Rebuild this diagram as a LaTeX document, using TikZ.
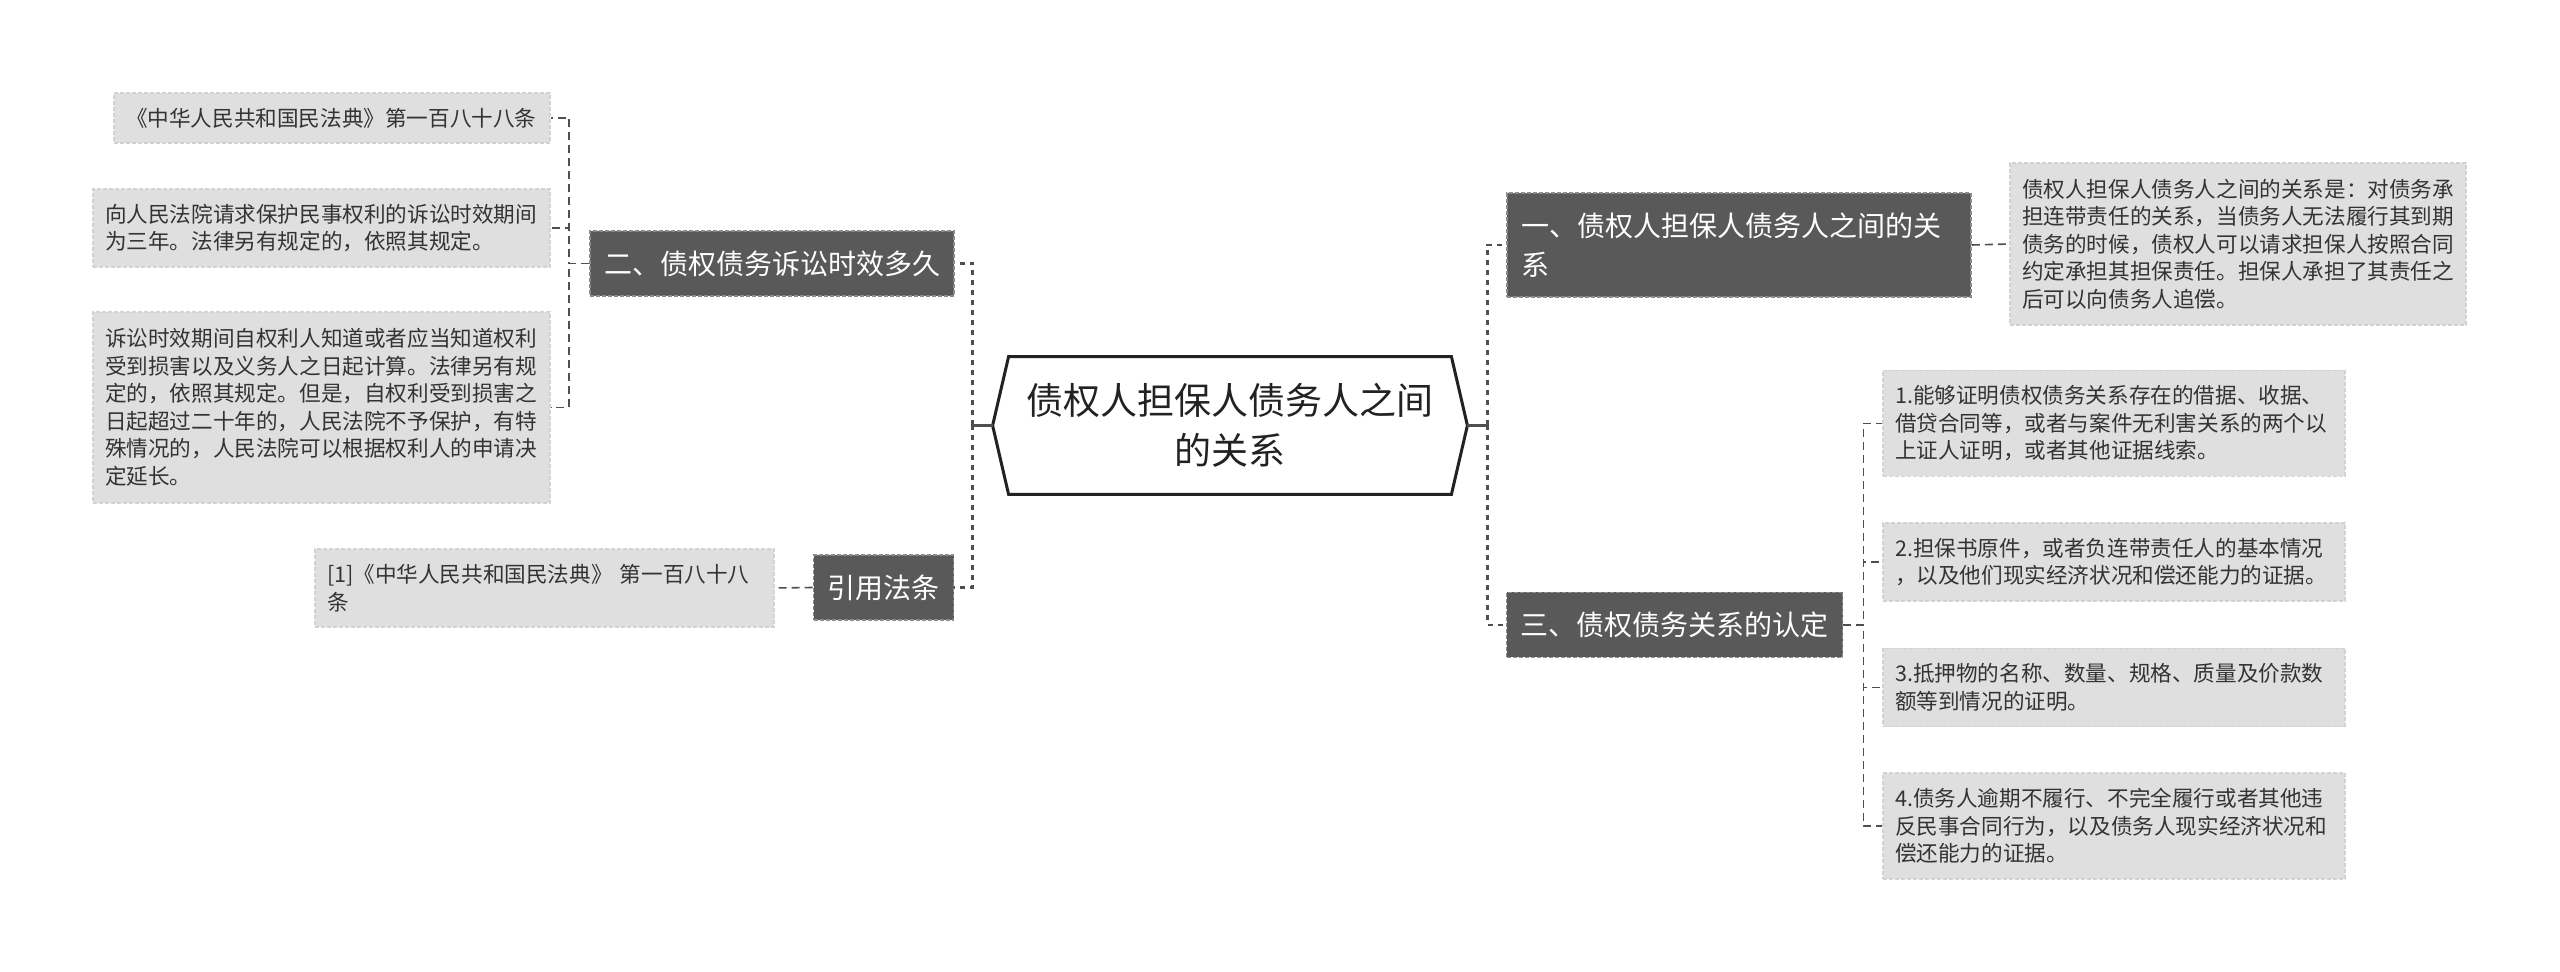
\documentclass[tikz,border=0pt]{standalone}
\usepackage{fontspec}
\setmainfont{Noto Sans CJK SC}
\usepackage{xcolor}
\usepackage{tikz}

\definecolor{rootink}{HTML}{222222}
\definecolor{topicfill}{HTML}{595959}
\definecolor{topicline}{HTML}{8C8C8C}
\definecolor{leaffill}{HTML}{DFDFDF}
\definecolor{leafline}{HTML}{D2D2D2}
\definecolor{leafink}{HTML}{333333}
\definecolor{linkgray}{HTML}{4F4F4F}

\begin{document}
\begin{tikzpicture}[
  x=0.5pt, y=-0.5pt,
  every node/.style={align=left},
  root/.style={minimum width=221pt, minimum height=68.5pt, inner sep=0pt,
               align=center, text=rootink,
               font=\fontsize{18.5pt}{25pt}\selectfont},
  hexline/.style={draw=rootink, line width=1.5pt, line join=miter},
  topic/.style={fill=topicfill, draw=topicline, line width=0.8pt,
                dash pattern=on 2pt off 1pt, text=white, inner xsep=7pt,
                inner ysep=0pt, minimum height=32.5pt,
                font=\fontsize{14pt}{19.5pt}\selectfont},
  leaf/.style={fill=leaffill, draw=leafline, line width=0.7pt,
               dash pattern=on 2pt off 1pt, text=leafink, inner xsep=6pt,
               inner ysep=0pt, minimum height=25pt,
               font=\fontsize{10.8pt}{13.75pt}\selectfont},
  trunk/.style={draw=linkgray, line width=1.4pt, dash pattern=on 2.5pt off 2.5pt},
  stub/.style={draw=linkgray, line width=1.4pt},
  twig/.style={draw=linkgray, line width=0.8pt, dash pattern=on 4pt off 2.5pt}
]
\path[use as bounding box, fill=white] (0,0) rectangle (2560,972);

\node[root] (rel) at (1230,425.5) {债权人担保人债务人之间\\的关系};
\coordinate (relL) at ([xshift=-8pt]rel.west);
\coordinate (relR) at ([xshift=8pt]rel.east);
\coordinate (jl) at ([xshift=-10pt]relL);
\coordinate (jr) at ([xshift=10pt]relR);
\draw[hexline] (rel.north west) -- (rel.north east) -- (relR)
  -- (rel.south east) -- (rel.south west) -- (relL) -- cycle;

\node[topic] (lim) at (772,263.5) {二、债权债务诉讼时效多久};
\node[topic] (law) at (883.5,587.5) {引用法条};
\node[topic, text width=218pt, minimum height=52pt] (link) at (1739,245)
  {一、债权人担保人债务人之间的关\\系};
\node[topic] (proof) at (1674.5,625) {三、债权债务关系的认定};

\node[leaf, text width=206pt] (limA) at (332,118)
  {《中华人民共和国民法典》第一百八十八条};
\node[leaf, text width=216.5pt, minimum height=39pt] (limB) at (321.5,228)
  {向人民法院请求保护民事权利的诉讼时效期间\\为三年。法律另有规定的，依照其规定。};
\node[leaf, text width=216.5pt, minimum height=95.5pt] (limC) at (321.5,407.5)
  {诉讼时效期间自权利人知道或者应当知道权利\\受到损害以及义务人之日起计算。法律另有规\\定的，依照其规定。但是，自权利受到损害之\\日起超过二十年的，人民法院不予保护，有特\\殊情况的，人民法院可以根据权利人的申请决\\定延长。};
\node[leaf, text width=217.5pt, minimum height=39pt] (lawA) at (544.5,588)
  {[1]《中华人民共和国民法典》 第一百八十八\\条};
\node[leaf, text width=216pt, minimum height=81pt] (linkA) at (2238,244)
  {债权人担保人债务人之间的关系是：对债务承\\担连带责任的关系，当债务人无法履行其到期\\债务的时候，债权人可以请求担保人按照合同\\约定承担其担保责任。担保人承担了其责任之\\后可以向债务人追偿。};
\node[leaf, text width=219pt, minimum height=53pt] (proofA) at (2114,423.5)
  {1.能够证明债权债务关系存在的借据、收据、\\借贷合同等，或者与案件无利害关系的两个以\\上证人证明，或者其他证据线索。};
\node[leaf, text width=219pt, minimum height=39pt] (proofB) at (2114,562)
  {2.担保书原件，或者负连带责任人的基本情况\\，以及他们现实经济状况和偿还能力的证据。};
\node[leaf, text width=219pt, minimum height=39pt] (proofC) at (2114,687.5)
  {3.抵押物的名称、数量、规格、质量及价款数\\额等到情况的证明。};
\node[leaf, text width=219pt, minimum height=53pt] (proofD) at (2114,826)
  {4.债务人逾期不履行、不完全履行或者其他违\\反民事合同行为，以及债务人现实经济状况和\\偿还能力的证据。};

\draw[stub] (relL) -- (jl);
\draw[stub] (relR) -- (jr);
\draw[trunk] (jl) |- (lim.east);
\draw[trunk] (jl) |- (law.east);
\draw[trunk] (jr) |- (link.west);
\draw[trunk] (jr) |- (proof.west);

\draw[twig] (lim.west) -- ++(-10pt,0) |- (limA.east);
\draw[twig] (lim.west) -- ++(-10pt,0) |- (limB.east);
\draw[twig] (lim.west) -- ++(-10pt,0) |- (limC.east);
\draw[twig] (law.west) -- (lawA.east);
\draw[twig] (link.east) -- (linkA.west);
\draw[twig] (proof.east) -- ++(10pt,0) |- (proofA.west);
\draw[twig] (proof.east) -- ++(10pt,0) |- (proofB.west);
\draw[twig] (proof.east) -- ++(10pt,0) |- (proofC.west);
\draw[twig] (proof.east) -- ++(10pt,0) |- (proofD.west);
\end{tikzpicture}
\end{document}
